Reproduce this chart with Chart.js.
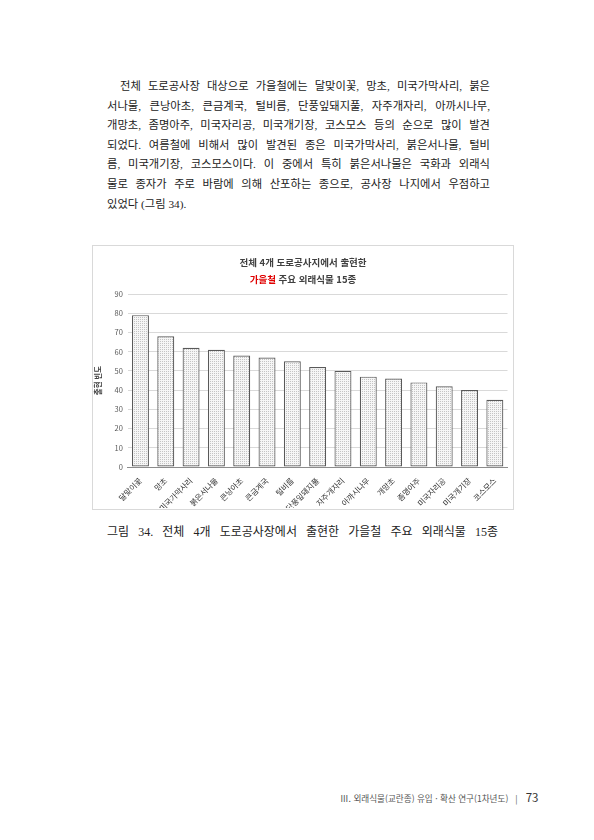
<!DOCTYPE html>
<html lang="ko">
<head>
<meta charset="utf-8">
<script src="https://cdn.jsdelivr.net/npm/chart.js@4/dist/chart.umd.min.js"></script>
<style>
  html, body { margin: 0; padding: 0; background: #fff; }
  #page { position: relative; width: 594px; height: 840px; overflow: hidden; }
  .body-text { position: absolute; left: 107px; top: 77px; width: 383px;
    font-family: "Liberation Serif", "Noto Sans CJK KR", serif; font-size: 11.3px;
    color: #222; line-height: 19.6px; }
  .body-text div { text-align: justify; text-align-last: justify; white-space: nowrap; }
  .body-text div.first { padding-left: 13px; }
  .body-text div.last { text-align-last: left; }
  #box { position: absolute; left: 92px; top: 245px; width: 422px; height: 265px;
    border: 1px solid #d9d9d9; box-sizing: border-box; }
  #chart-title { position: absolute; left: 92px; top: 254px; width: 422px; text-align: center;
    font-family: "Noto Sans CJK KR", sans-serif; font-weight: bold; font-size: 9.5px;
    color: #404040; line-height: 17px; }
  #chart-title .red { color: #e00000; }
  #chart-area { position: absolute; left: 92px; top: 245px; }
  #caption { position: absolute; left: 107px; top: 522px; width: 391px;
    font-family: "Liberation Serif", "Noto Sans CJK KR", serif; font-size: 12px; color: #222;
    text-align: justify; text-align-last: justify; white-space: nowrap; }
  #footer { position: absolute; left: 340px; top: 789px; font-family: "Noto Sans CJK KR", sans-serif;
    font-size: 8.6px; color: #555; white-space: nowrap; }
  #footer .sep { margin-left: 7px; margin-right: 8px; }
  #footer .num { font-size: 11.5px; color: #333; }
</style>
</head>
<body>
<div id="page">
  <div class="body-text">
    <div class="first">전체 도로공사장 대상으로 가을철에는 달맞이꽃, 망초, 미국가막사리, 붉은</div>
    <div>서나물, 큰낭아초, 큰금계국, 털비름, 단풍잎돼지풀, 자주개자리, 아까시나무,</div>
    <div>개망초, 좀명아주, 미국자리공, 미국개기장, 코스모스 등의 순으로 많이 발견</div>
    <div>되었다. 여름철에 비해서 많이 발견된 종은 미국가막사리, 붉은서나물, 털비</div>
    <div>름, 미국개기장, 코스모스이다. 이 중에서 특히 붉은서나물은 국화과 외래식</div>
    <div>물로 종자가 주로 바람에 의해 산포하는 종으로, 공사장 나지에서 우점하고</div>
    <div class="last">있었다 (그림 34).</div>
  </div>

  <div id="box"></div>
  <canvas id="chart-area" width="422" height="272"></canvas>
  <div id="chart-title">전체 4개 도로공사지에서 출현한<br><span class="red">가을철</span> 주요 외래식물 15종</div>

  <div id="caption">그림 34. 전체 4개 도로공사장에서 출현한 가을철 주요 외래식물 15종</div>

  <div id="footer">Ⅲ. 외래식물(교란종) 유입 · 확산 연구(1차년도)<span class="sep">|</span><span class="num">73</span></div>
</div>

<script>
var species = ["달맞이꽃", "망초", "미국가막사리", "붉은서나물", "큰낭아초", "큰금계국", "털비름",
  "단풍잎돼지풀", "자주개자리", "아까시나무", "개망초", "좀명아주", "미국자리공", "미국개기장", "코스모스"];
var counts = [79, 68, 62, 61, 58, 57, 55, 52, 50, 47, 46, 44, 42, 40, 35];
var yTicks = [0, 10, 20, 30, 40, 50, 60, 70, 80, 90];

// light dotted fill like the original bars
function dotPattern() {
  var c = document.createElement("canvas");
  c.width = 2; c.height = 2;
  var g = c.getContext("2d");
  g.fillStyle = "#f6f6f6";
  g.fillRect(0, 0, 2, 2);
  g.fillStyle = "#c4c4c4";
  g.fillRect(0, 0, 1, 1);
  return g.createPattern(c, "repeat");
}

var config = {
  type: 'bar',
  data: {
    labels: species,
    datasets: [{
      data: counts,
      backgroundColor: dotPattern(),
      borderColor: "#595959",
      borderWidth: 1.2,
      borderSkipped: false,
      categoryPercentage: 1,
      barPercentage: 0.67
    }]
  },
  options: {
    responsive: false,
    animation: false,
    layout: { padding: { top: 49, right: 6.5, bottom: 9, left: 0 } },
    plugins: { legend: { display: false }, tooltip: { enabled: false } },
    scales: {
      x: {
        grid: { display: false },
        border: { color: "#8c8c8c", width: 1 },
        ticks: {
          autoSkip: false, maxRotation: 45, minRotation: 45, padding: 1,
          color: "#333333",
          font: { family: "Noto Sans CJK KR", size: 7.8 }
        },
        afterFit: function(s) { s.height = 41; }
      },
      y: {
        min: 0, max: 90,
        afterBuildTicks: function(s) { s.ticks = yTicks.map(function(v) { return { value: v }; }); },
        grid: { color: "#d9d9d9", drawTicks: false },
        border: { display: false },
        ticks: {
          padding: 5, color: "#595959",
          font: { family: "Noto Sans CJK KR", size: 7.5 }
        },
        title: {
          display: true, text: "출현 빈도", color: "#404040", padding: { top: 2, bottom: 0 },
          font: { family: "Noto Sans CJK KR", size: 7.5, weight: "bold" }
        },
        afterFit: function(s) { s.width = 35.8; }
      }
    }
  }
};

window.onload = function() {
  var ctx = document.getElementById("chart-area").getContext("2d");
  window.myBar = new Chart(ctx, config);
};
</script>
</body>
</html>
